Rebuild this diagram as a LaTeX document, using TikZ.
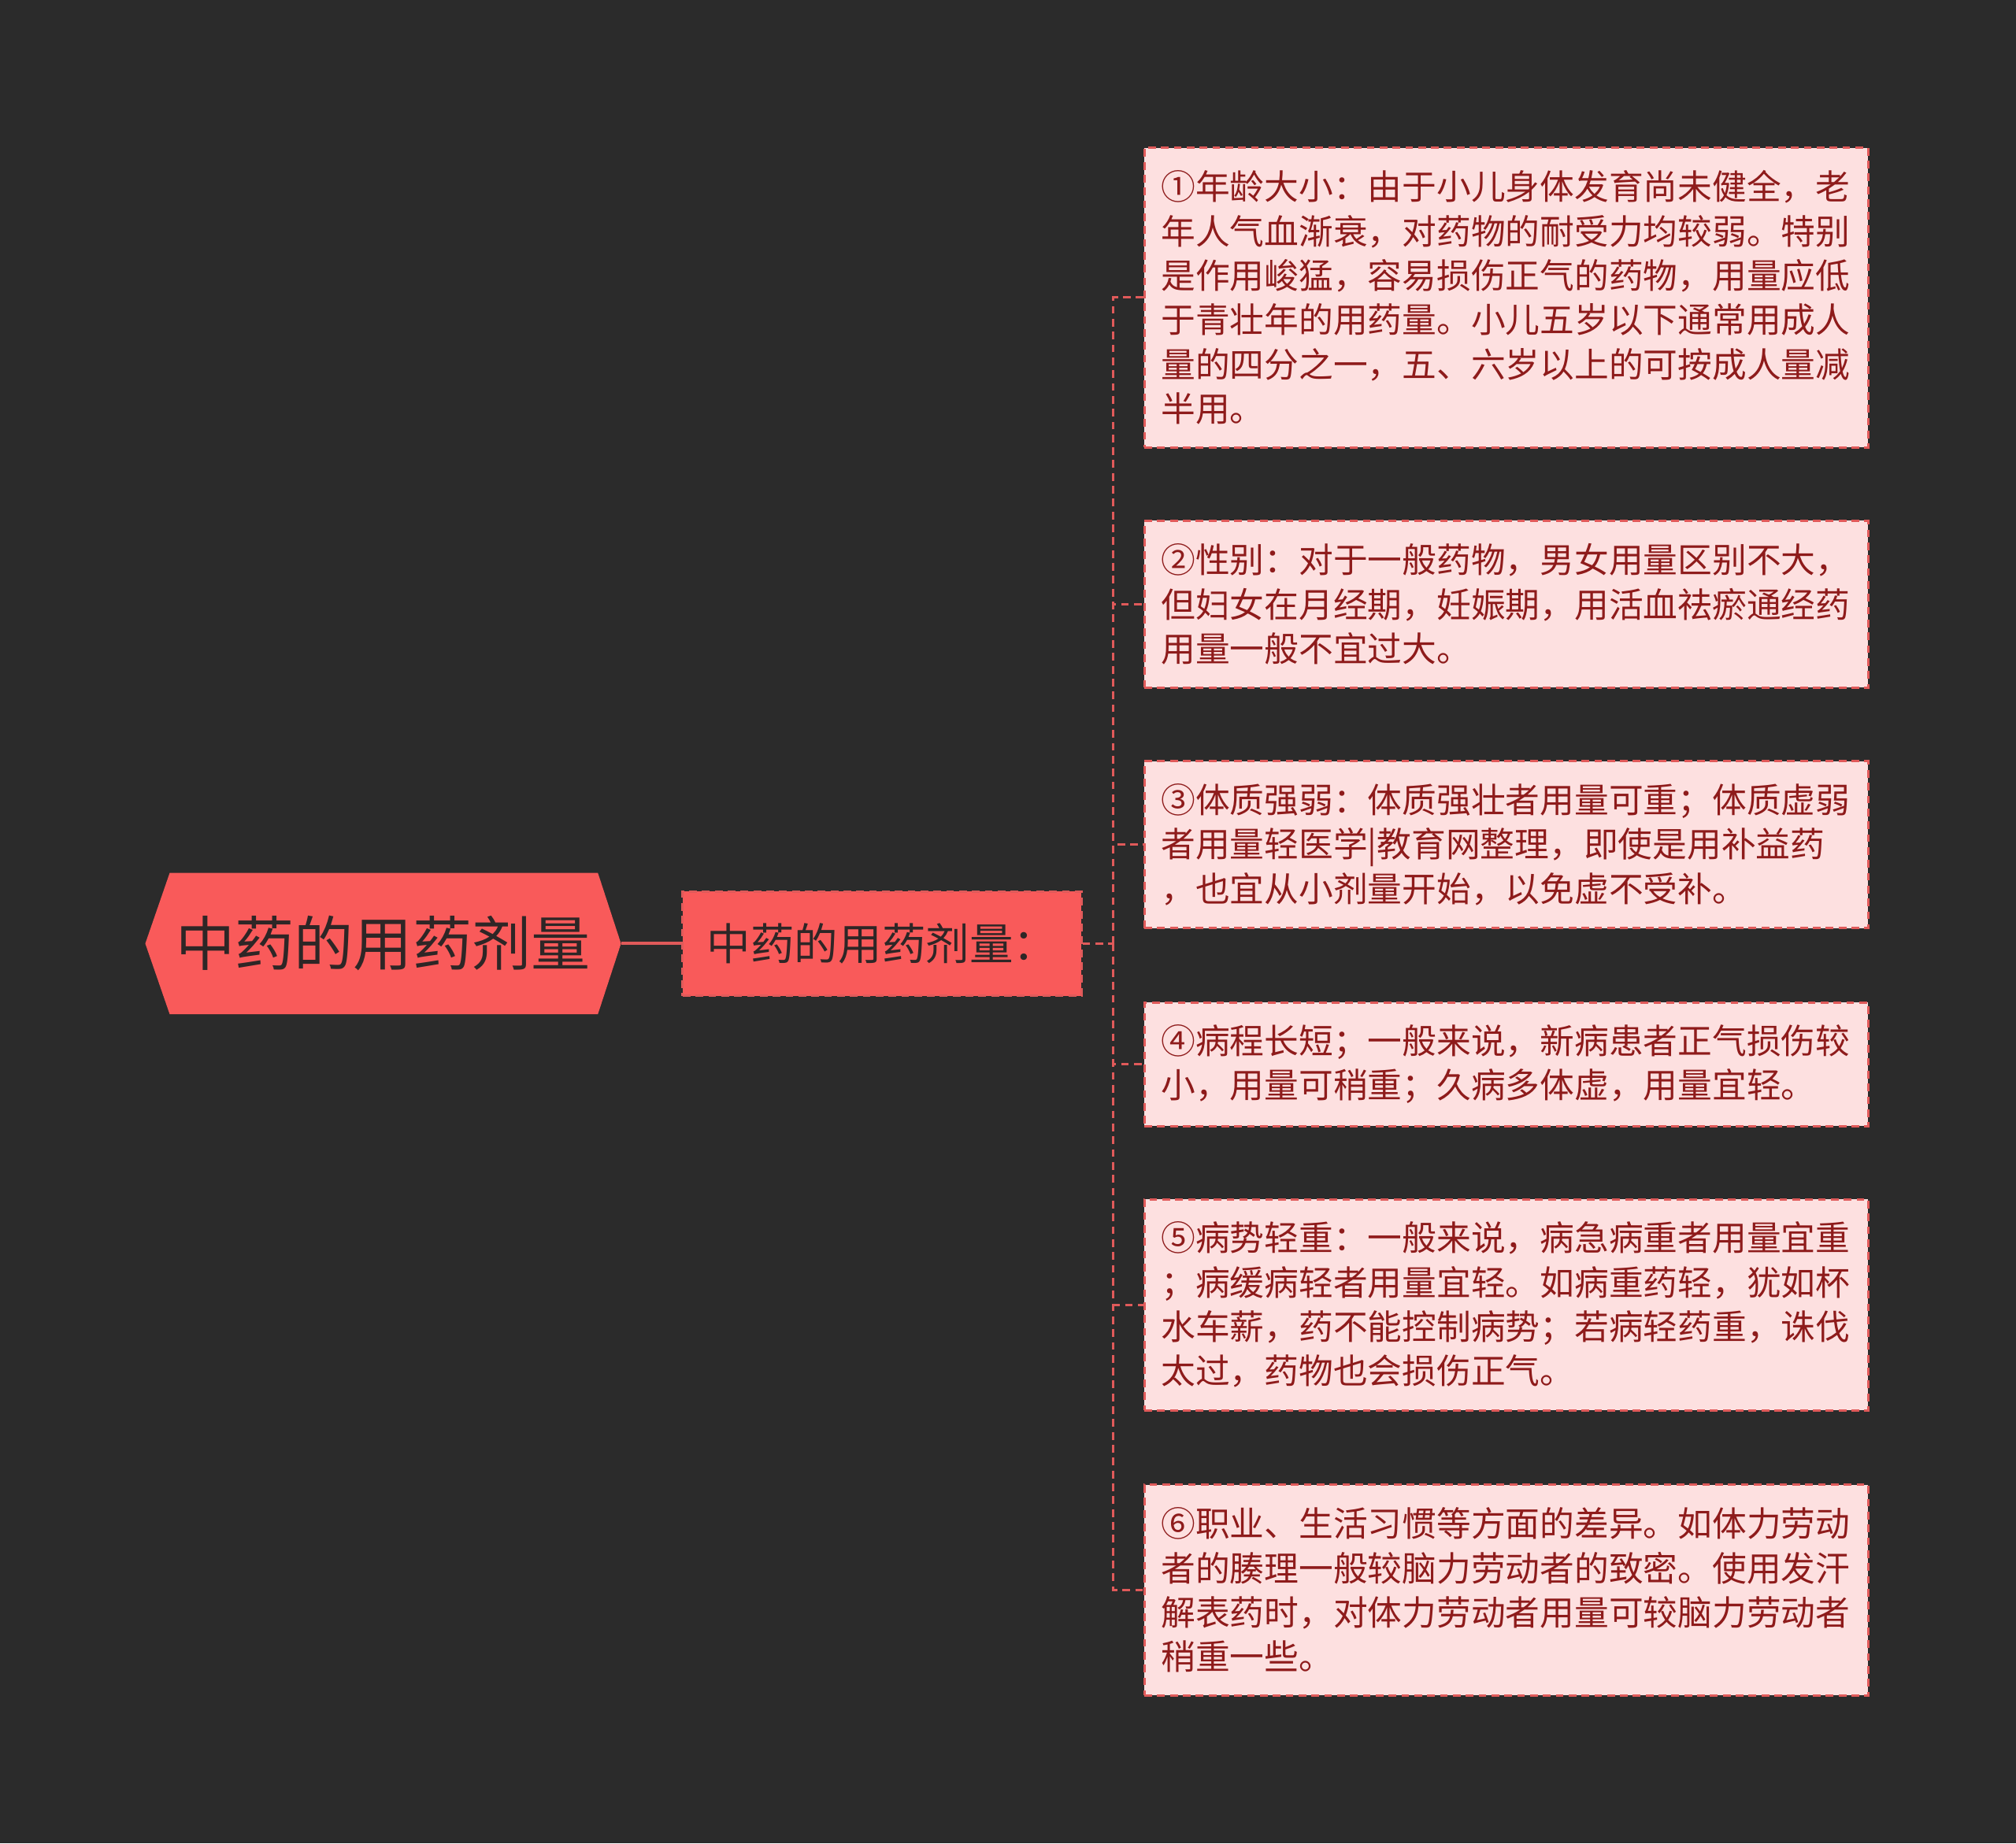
\documentclass[tikz,border=0pt]{standalone}
\usepackage{fontspec}
\newfontfamily\cjk{Noto Sans CJK SC}
\definecolor{bg}{HTML}{2B2B2B}
\definecolor{rootred}{HTML}{F95A5A}
\definecolor{leaffill}{HTML}{FDE0E0}
\definecolor{leafline}{HTML}{E05A5A}
\definecolor{leaftext}{HTML}{8E1B1B}
\definecolor{darktext}{HTML}{2E2626}
\tikzset{
  dsh/.style={dash pattern=on 6pt off 4pt},
  leafbox/.style={draw=leafline, dsh, line width=1.8pt, fill=leaffill, minimum width=563pt, text width=537pt, align=left, inner sep=0pt, font=\cjk\fontsize{26.8}{34.5}\selectfont, text=leaftext},
  conn/.style={draw=leafline, dsh, line width=1.8pt},
}
\begin{document}
\begin{tikzpicture}[x=1pt,y=-1pt]
\fill[bg] (0,0) rectangle (1568,1434);
\useasboundingbox (0,0) rectangle (1568,1434);
% root
\fill[rootred] (113,734) -- (132,679) -- (465,679) -- (483,734) -- (465,789) -- (132,789) -- cycle;
\node[minimum width=370pt, minimum height=110pt, inner sep=0pt, font=\cjk\fontsize{46}{50}\selectfont, text=darktext] (root) at (298,734) {中药的用药剂量};
\node[draw=leafline, dsh, line width=1.8pt, fill=rootred, minimum width=310pt, minimum height=81pt, inner sep=0pt, font=\cjk\fontsize{34}{38}\selectfont, text=darktext] (mid) at (686,734) {中药的用药剂量：};
\draw[leafline, line width=2.5pt] (root.east) -- (mid.west);
% leaves
\node[leafbox, minimum height=233pt] (l1) at (1171.5,231.5) {①年龄大小：由于小儿身体发育尚未健全，老\\年人气血渐衰，对药物的耐受力均较弱。特别\\是作用峻猛，容易损伤正气的药物，用量应低\\于青壮年的用药量。小儿五岁以下通常用成人\\量的四分之一，五、六岁以上的可按成人量减\\半用。};
\node[leafbox, minimum height=130pt] (l2) at (1171.5,470) {②性别：对于一般药物，男女用量区别不大，\\但妇女在月经期，妊娠期，用活血祛瘀通经药\\用量一般不宜过大。};
\node[leafbox, minimum height=130pt] (l3) at (1171.5,657) {③体质强弱：体质强壮者用量可重；体质虚弱\\者用量轻医学|教育网整理，即使是用补益药\\，也宜从小剂量开始，以免虚不受补。};
\node[leafbox, minimum height=96pt] (l4) at (1171.5,828) {④病程长短；一般来说，新病患者正气损伤较\\小，用量可稍重；久病多体虚，用量宜轻。};
\node[leafbox, minimum height=164pt] (l5) at (1171.5,1015) {⑤病势轻重：一般来说，病急病重者用量宜重\\；病缓病轻者用量宜轻。如病重药轻，犹如杯\\水车薪，药不能控制病势；若病轻药重，诛伐\\太过，药物也会损伤正气。};
\node[leafbox, minimum height=164pt] (l6) at (1171.5,1237) {⑥职业、生活习惯等方面的差异。如体力劳动\\者的腠理一般较脑力劳动者的致密。使用发汗\\解表药时，对体力劳动者用量可较脑力劳动者\\稍重一些。};
\coordinate (j) at (866,734);
\draw[conn] (mid.east) -- (j);
\foreach \n in {l1,l2,l3,l4,l5,l6} \draw[conn] (j) |- (\n.west);
\end{tikzpicture}
\end{document}
